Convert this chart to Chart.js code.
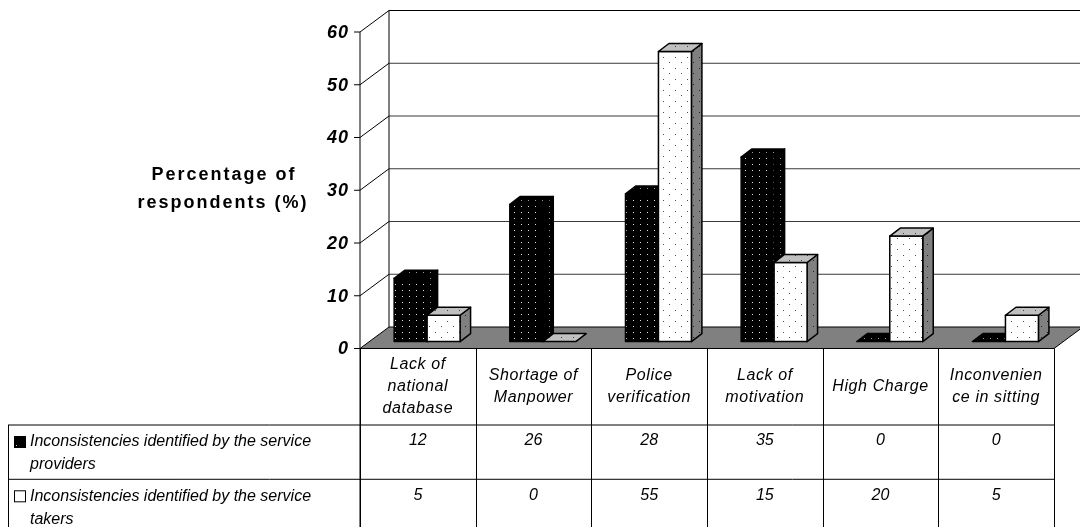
<!DOCTYPE html>
<html>
<head>
<meta charset="utf-8">
<script src="https://cdn.jsdelivr.net/npm/chart.js@4.4.1/dist/chart.umd.min.js"></script>
<style>
  html, body { margin: 0; padding: 0; background: #fff; }
  #wrap { width: 1080px; height: 527px; }
</style>
</head>
<body>
<div id="wrap"><canvas id="respChart" width="1080" height="527"></canvas></div>
<script>
const categories = [
  ['Lack of', 'national', 'database'],
  ['Shortage of', 'Manpower'],
  ['Police', 'verification'],
  ['Lack of', 'motivation'],
  ['High Charge'],
  ['Inconvenien', 'ce in sitting']
];
const providers = [12, 26, 28, 35, 0, 0];
const takers = [5, 0, 55, 15, 20, 5];
const seriesNames = [
  ['Inconsistencies identified by the service', 'providers'],
  ['Inconsistencies identified by the service', 'takers']
];
const yTicks = [0, 10, 20, 30, 40, 50, 60];
const yTitle = ['Percentage of', 'respondents (%)'];

const FONT = '"Liberation Sans", Arial, sans-serif';
// depth of the whole box, and where the bars sit inside it
const DEPTH = { x: 29, y: -21.5 };
const BAR_FRONT = 0.32;
const BAR_DEPTH = { x: 10.5, y: -8 };

function makePattern(bg, dot, w, h, dots) {
  const c = document.createElement('canvas');
  c.width = w; c.height = h;
  const g = c.getContext('2d');
  g.fillStyle = bg;
  g.fillRect(0, 0, w, h);
  g.fillStyle = dot;
  dots.forEach(([x, y]) => g.fillRect(x, y, 1, 1));
  return g.createPattern(c, 'repeat');
}

function poly(ctx, pts, fill) {
  ctx.beginPath();
  ctx.moveTo(pts[0][0], pts[0][1]);
  for (let i = 1; i < pts.length; i++) ctx.lineTo(pts[i][0], pts[i][1]);
  ctx.closePath();
  if (fill) { ctx.fillStyle = fill; ctx.fill(); }
  ctx.stroke();
}

function line(ctx, x1, y1, x2, y2) {
  ctx.beginPath();
  ctx.moveTo(x1, y1);
  ctx.lineTo(x2, y2);
  ctx.stroke();
}

let fills = null;
function getFills() {
  if (fills) return fills;
  fills = [
    {
      front: makePattern('#000', '#e0e0e0', 7, 6, [[3, 2]]),
      side: makePattern('#000', '#9a9a9a', 7, 6, [[3, 2]]),
      top: makePattern('#000', '#9a9a9a', 7, 6, [[3, 2]])
    },
    {
      front: makePattern('#fff', '#505050', 12, 11, [[3, 2], [9, 7]]),
      side: makePattern('#808080', '#202020', 12, 11, [[3, 2], [9, 7]]),
      top: makePattern('#c0c0c0', '#404040', 12, 11, [[3, 2], [9, 7]])
    }
  ];
  return fills;
}

const box3d = {
  id: 'box3d',
  beforeDatasetsDraw(chart) {
    const { ctx, chartArea: a, scales: { y } } = chart;
    const yF = v => y.getPixelForValue(v);
    const yB = v => y.getPixelForValue(v) + DEPTH.y;
    const bx = a.left + DEPTH.x;
    const farX = a.right + DEPTH.x + 10;
    ctx.save();
    ctx.lineWidth = 1;
    ctx.strokeStyle = '#000';

    // floor
    poly(ctx, [[a.left, yF(0)], [a.right, yF(0)], [a.right + DEPTH.x, yB(0)], [bx, yB(0)]], '#808080');

    // left wall edges and back wall grid
    yTicks.forEach(v => {
      if (v === 0) return;
      ctx.strokeStyle = '#000';
      line(ctx, a.left, yF(v), bx, yB(v));
      ctx.strokeStyle = v === 60 ? '#000' : '#3a3a3a';
      line(ctx, bx, yB(v), farX, yB(v));
    });
    ctx.strokeStyle = '#000';
    line(ctx, bx, yB(60), bx, yB(0));
    line(ctx, a.left, yF(60), a.left, chart.height);
    yTicks.forEach(v => line(ctx, a.left - 6, yF(v), a.left, yF(v)));

    // tick labels
    ctx.fillStyle = '#000';
    ctx.font = 'italic bold 18px ' + FONT;
    ctx.letterSpacing = '1px';
    ctx.textAlign = 'right';
    ctx.textBaseline = 'middle';
    yTicks.forEach(v => ctx.fillText(String(v), a.left - 11, yF(v) + 1));

    // axis title
    ctx.font = 'bold 18px ' + FONT;
    ctx.letterSpacing = '2px';
    ctx.textAlign = 'center';
    ctx.fillText(yTitle[0], 224, 175);
    ctx.fillText(yTitle[1], 223, 203);
    ctx.letterSpacing = '0px';
    ctx.restore();
  },
  afterDatasetsDraw(chart) {
    const { ctx, chartArea: a, scales: { x } } = chart;
    const f = getFills();
    const fx = DEPTH.x * BAR_FRONT, fy = DEPTH.y * BAR_FRONT;
    const dx = BAR_DEPTH.x, dy = BAR_DEPTH.y;
    ctx.save();
    ctx.strokeStyle = '#000';
    ctx.lineWidth = 1.5;
    ctx.lineJoin = 'round';
    chart.data.datasets.forEach((ds, di) => {
      chart.getDatasetMeta(di).data.forEach(bar => {
        const x0 = bar.x - bar.width / 2 + fx;
        const x1 = bar.x + bar.width / 2 + fx;
        const top = bar.y + fy;
        const base = bar.base + fy;
        const p = f[di];
        if (base - top > 0.5) {
          poly(ctx, [[x1, top], [x1 + dx, top + dy], [x1 + dx, base + dy], [x1, base]], p.side);
          poly(ctx, [[x0, top], [x1, top], [x1, base], [x0, base]], p.front);
        }
        poly(ctx, [[x0, top], [x1, top], [x1 + dx, top + dy], [x0 + dx, top + dy]], p.top);
      });
    });
    ctx.restore();

    // data table
    const colW = (a.right - a.left) / categories.length;
    const rowTop = [425, 479.3];
    const tableLeft = 8;
    ctx.save();
    ctx.strokeStyle = '#000';
    ctx.lineWidth = 1;
    for (let i = 0; i <= categories.length; i++) {
      const cx = Math.round(a.left + i * colW) + 0.5;
      line(ctx, cx, a.bottom, cx, chart.height);
    }
    rowTop.forEach(ry => line(ctx, tableLeft, ry, a.right, ry));
    line(ctx, tableLeft + 0.5, rowTop[0], tableLeft + 0.5, chart.height);

    ctx.fillStyle = '#000';
    ctx.font = 'italic 16px ' + FONT;
    ctx.textAlign = 'center';
    ctx.textBaseline = 'middle';
    ctx.letterSpacing = '0.6px';
    const headMid = (a.bottom + rowTop[0]) / 2;
    categories.forEach((lines, i) => {
      const cx = x.getPixelForValue(i);
      lines.forEach((t, k) => {
        ctx.fillText(t, cx, headMid + (k - (lines.length - 1) / 2) * 22);
      });
    });

    ctx.letterSpacing = '0px';
    const rows = [providers, takers];
    rows.forEach((vals, r) => {
      vals.forEach((v, i) => ctx.fillText(String(v), x.getPixelForValue(i), rowTop[r] + 16));
    });

    // legend keys and series names
    ctx.textAlign = 'left';
    seriesNames.forEach((lines, r) => {
      const ty = rowTop[r] + 17;
      const ky = ty - 6;
      if (r === 0) {
        ctx.fillStyle = '#000';
        ctx.fillRect(14, ky, 12, 12);
        ctx.fillStyle = '#ccc';
        ctx.fillRect(16, ky + 9, 1, 1);
      } else {
        ctx.fillStyle = '#fff';
        ctx.fillRect(14, ky, 12, 12);
        ctx.strokeRect(14.5, ky + 0.5, 11, 11);
      }
      ctx.fillStyle = '#000';
      lines.forEach((t, k) => ctx.fillText(t, 30, ty + k * 23));
    });
    ctx.restore();
  }
};

const ctx = document.getElementById('respChart').getContext('2d');
new Chart(ctx, {
  type: 'bar',
  data: {
    labels: categories,
    datasets: [
      { label: seriesNames[0].join(' '), data: providers, backgroundColor: 'rgba(0,0,0,0)', borderWidth: 0 },
      { label: seriesNames[1].join(' '), data: takers, backgroundColor: 'rgba(0,0,0,0)', borderWidth: 0 }
    ]
  },
  options: {
    responsive: false,
    animation: false,
    devicePixelRatio: 1,
    categoryPercentage: 0.57,
    barPercentage: 1,
    layout: { padding: { left: 360, right: 26, top: 32, bottom: 178.5 } },
    scales: {
      x: { display: false },
      y: { display: false, min: 0, max: 60 }
    },
    plugins: {
      legend: { display: false },
      tooltip: { enabled: false }
    }
  },
  plugins: [box3d]
});
</script>
</body>
</html>
